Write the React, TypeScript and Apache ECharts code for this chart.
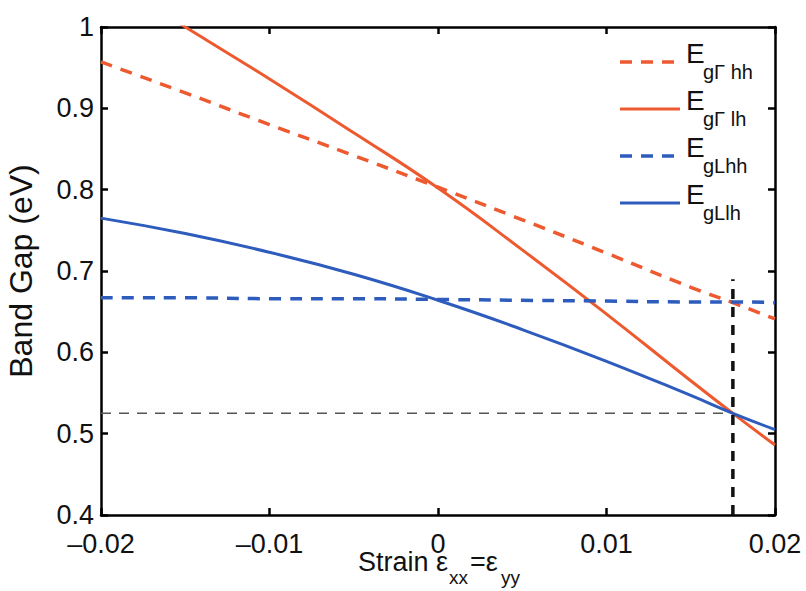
import React, { useEffect, useRef } from "react";
import * as echarts from "echarts";

const strain = [-0.02, -0.015, -0.01, -0.005, 0, 0.005, 0.01, 0.015, 0.0175, 0.02];
const egGammaHH = [0.957, 0.919, 0.88, 0.842, 0.803, 0.763, 0.722, 0.68, 0.661, 0.641];
const egGammaLH = [1.063, 1.0, 0.936, 0.87, 0.802, 0.726, 0.647, 0.565, 0.525, 0.486];
const egLHH = [0.667, 0.667, 0.666, 0.666, 0.665, 0.664, 0.663, 0.662, 0.662, 0.661];
const egLLH = [0.765, 0.746, 0.723, 0.696, 0.664, 0.628, 0.589, 0.547, 0.525, 0.505];

const markerStrain = 0.0175;
const markerGap = 0.525;
const markerTop = 0.69;

const xTicks = [-0.02, -0.01, 0, 0.01, 0.02];
const yTicks = [0.4, 0.5, 0.6, 0.7, 0.8, 0.9, 1];

const seriesKeys = ["EgGhh", "EgGlh", "EgLhh", "EgLlh"];
const legendSubs = ["gΓ hh", "gΓ lh", "gLhh", "gLlh"];

const RED = "#ee5a30";
const BLUE = "#2d5cbd";
const FONT = "'Liberation Sans', Arial, Helvetica, sans-serif";

function pairs(ys: number[]) {
  return strain.map((x, i) => [x, ys[i]]);
}

export default function App() {
  const ref = useRef<HTMLDivElement>(null);
  useEffect(() => {
    if (!ref.current) return;
    document.body.style.margin = "0";
    const chart = echarts.init(ref.current, undefined, { renderer: "svg" });
    const fmtX = (v: number) => (Math.abs(v) < 1e-9 ? "0" : v.toFixed(2).replace("-", "–"));
    const fmtY = (v: number) => (Math.abs(v - 1) < 1e-9 ? "1" : v.toFixed(1));
    const tickCommon = {
      show: true,
      inside: true,
      length: 7,
      lineStyle: { color: "#000", width: 2.5 },
    };
    const lineCommon = { show: true, onZero: false, lineStyle: { color: "#000", width: 2.5 } };
    const labelsStyle = { color: "#111", fontSize: 27, fontFamily: FONT };

    const legendStyles = [
      { stroke: RED, lineWidth: 3.5, lineDash: [12, 9] },
      { stroke: RED, lineWidth: 3, lineDash: null },
      { stroke: BLUE, lineWidth: 3.5, lineDash: [12, 9] },
      { stroke: BLUE, lineWidth: 3, lineDash: null },
    ];
    const legendY = [62, 109, 156, 203];
    const txt = (text: string, x: number, y: number, size: number) => ({
      type: "text",
      x,
      y,
      silent: true,
      style: {
        text,
        fontSize: size,
        fontFamily: FONT,
        fill: "#111",
        align: "left",
        verticalAlign: "middle",
        textAlign: "left",
        textVerticalAlign: "middle",
      },
    });
    const graphics: any[] = [];
    legendSubs.forEach((sub, i) => {
      const y = legendY[i];
      graphics.push({
        type: "line",
        silent: true,
        shape: { x1: 620, y1: y, x2: 680, y2: y },
        style: { ...legendStyles[i], fill: null },
      });
      graphics.push(txt("E", 686, y - 9, 28));
      graphics.push(txt(sub, 703, y + 10, 20));
    });
    // x axis title with subscripts
    graphics.push(txt("Strain ε", 358, 562, 27));
    graphics.push(txt("xx", 449, 577, 19));
    graphics.push(txt("=ε", 470, 562, 27));
    graphics.push(txt("yy", 501, 577, 19));

    const option: any = {
      animation: false,
      backgroundColor: "#fff",
      grid: {
        left: 101,
        right: 31,
        top: 27,
        bottom: 76,
        show: false,
        containLabel: false,
        outerBoundsMode: "none",
      },
      graphic: { elements: graphics },
      xAxis: [
        {
          type: "value",
          min: -0.02,
          max: 0.02,
          interval: 0.01,
          position: "bottom",
          axisLine: lineCommon,
          axisTick: tickCommon,
          splitLine: { show: false },
          axisLabel: { ...labelsStyle, margin: 15, formatter: fmtX, showMinLabel: true, showMaxLabel: true },
        },
        {
          type: "value",
          min: -0.02,
          max: 0.02,
          interval: 0.01,
          position: "top",
          axisLine: lineCommon,
          axisTick: tickCommon,
          splitLine: { show: false },
          axisLabel: { show: false },
        },
      ],
      yAxis: [
        {
          type: "value",
          min: 0.4,
          max: 1,
          interval: 0.1,
          position: "left",
          axisLine: lineCommon,
          axisTick: tickCommon,
          splitLine: { show: false },
          axisLabel: { ...labelsStyle, margin: 7, formatter: fmtY },
          name: "Band Gap (eV)",
          nameLocation: "middle",
          nameGap: 64,
          nameRotate: 90,
          nameMoveOverlap: false,
          nameTextStyle: { fontSize: 32, fontFamily: FONT, color: "#111" },
        },
        {
          type: "value",
          min: 0.4,
          max: 1,
          interval: 0.1,
          position: "right",
          axisLine: lineCommon,
          axisTick: tickCommon,
          splitLine: { show: false },
          axisLabel: { show: false },
        },
      ],
      series: [
        {
          name: seriesKeys[0],
          type: "line",
          data: pairs(egGammaHH),
          symbol: "none",
          smooth: true,
          clip: true,
          color: RED,
          lineStyle: { color: RED, width: 3.5, type: [12, 9] },
          z: 3,
        },
        {
          name: seriesKeys[1],
          type: "line",
          data: pairs(egGammaLH),
          symbol: "none",
          smooth: true,
          clip: true,
          color: RED,
          lineStyle: { color: RED, width: 3, type: "solid" },
          z: 3,
        },
        {
          name: seriesKeys[2],
          type: "line",
          data: pairs(egLHH),
          symbol: "none",
          smooth: true,
          clip: true,
          color: BLUE,
          lineStyle: { color: BLUE, width: 3.5, type: [12, 9] },
          z: 3,
        },
        {
          name: seriesKeys[3],
          type: "line",
          data: pairs(egLLH),
          symbol: "none",
          smooth: true,
          clip: true,
          color: BLUE,
          lineStyle: { color: BLUE, width: 3, type: "solid" },
          z: 3,
        },
        {
          name: "markerH",
          type: "line",
          data: [
            [xTicks[0], markerGap],
            [markerStrain, markerGap],
          ],
          symbol: "none",
          lineStyle: { color: "#555", width: 1.5, type: [10, 8] },
          z: 2,
        },
        {
          name: "markerV",
          type: "line",
          data: [
            [markerStrain, yTicks[0]],
            [markerStrain, markerTop],
          ],
          symbol: "none",
          lineStyle: { color: "#111", width: 3.5, type: [10, 8] },
          z: 4,
        },
      ],
    };
    chart.setOption(option);
    return () => chart.dispose();
  }, []);
  return <div ref={ref} style={{ width: 806, height: 591 }} />;
}
